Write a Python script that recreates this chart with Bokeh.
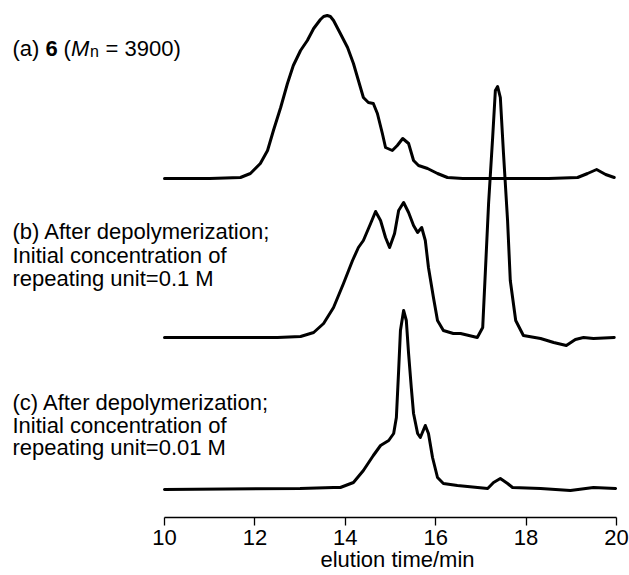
from bokeh.plotting import figure
from bokeh.models import Range1d, Label, FixedTicker
from bokeh.embed import file_html
from bokeh.resources import INLINE

# ---- data (elution time / min, detector response in arbitrary units) ----
x_ticks = [10, 12, 14, 16, 18, 20]
x_title = "elution time/min"

a_time = [10.0, 11.0, 11.68, 11.90, 12.12, 12.28, 12.41, 12.57, 12.72, 12.85, 13.01,
          13.16, 13.30, 13.45, 13.52, 13.60, 13.67, 13.74, 13.89, 14.05, 14.18, 14.29,
          14.40, 14.51, 14.62, 14.71, 14.82, 14.89, 15.04, 15.15, 15.27, 15.40, 15.51,
          15.62, 15.82, 16.04, 16.26, 16.6, 17.5, 18.5, 19.14, 19.36, 19.56, 19.76, 19.95]
a_signal = [0, 0, 1, 5, 15, 28, 48, 71, 95, 113, 128,
            138, 150, 159, 162, 163, 162, 158, 145, 131, 115, 98,
            81, 76, 75, 65, 45, 31, 28, 33, 40, 35, 18,
            13, 10, 5, 1, 0, 0, 0, 1, 5, 9, 4, 1]

b_time = [10.0, 12.5, 13.01, 13.30, 13.52, 13.74, 13.96, 14.16, 14.29, 14.40, 14.56,
          14.67, 14.78, 14.89, 14.98, 15.09, 15.18, 15.29, 15.40, 15.51, 15.60, 15.69,
          15.77, 15.84, 15.95, 16.04, 16.17, 16.39, 16.55, 16.92, 17.04, 17.10, 17.17,
          17.26, 17.32, 17.37, 17.43, 17.50, 17.59, 17.65, 17.77, 17.94, 18.32, 18.61,
          18.89, 19.09, 19.27, 19.49, 19.95]
b_signal = [0, 0, 1, 5, 14, 30, 54, 77, 90, 97, 114,
            126, 117, 100, 90, 104, 127, 135, 125, 112, 105, 110,
            97, 70, 40, 17, 7, 4, 4, 0, 10, 67, 134,
            200, 247, 251, 240, 184, 117, 57, 17, 2, -1, -5,
            -8, -2, 0, -1, 0]

c_time = [10.0, 13.0, 13.74, 13.89, 14.18, 14.40, 14.62, 14.78, 14.96, 15.07, 15.13,
          15.18, 15.22, 15.29, 15.35, 15.40, 15.46, 15.51, 15.60, 15.66, 15.77, 15.84,
          15.93, 16.04, 16.17, 16.48, 17.15, 17.28, 17.43, 17.59, 17.70, 18.32, 18.98,
          19.49, 19.98]
c_signal = [0, 1, 2, 2, 7, 19, 34, 44, 49, 56, 72,
            119, 159, 179, 169, 136, 102, 76, 56, 52, 64, 56,
            32, 12, 6, 4, 1, 7, 11, 6, 2, 1, -1,
            2, 1]

# ---- layout constants ----
PX_PER_MIN = 45.2
LEFT = 164               # canvas x of 10 min
AXIS_Y = 517             # canvas y of the time axis
W, H = 629, 575
OFF_A, OFF_B, OFF_C = 339, 180, 28   # vertical stacking of the traces (px)
FONT = "Liberation Sans"

x0 = x_ticks[0] - LEFT / PX_PER_MIN
x1 = x0 + W / PX_PER_MIN

p = figure(width=W, height=H, output_backend="svg", toolbar_location=None,
           x_range=Range1d(x0, x1), y_range=Range1d(AXIS_Y - H, AXIS_Y),
           y_axis_location=None,
           min_border_left=0, min_border_right=0,
           min_border_top=0, min_border_bottom=0)
p.grid.visible = False
p.outline_line_color = None
p.background_fill_color = "white"
p.border_fill_color = "white"

for t, s, off in ((a_time, a_signal, OFF_A), (b_time, b_signal, OFF_B), (c_time, c_signal, OFF_C)):
    p.line(t, [v + off for v in s], line_width=3, line_color="black",
           line_join="round", line_cap="round")

ax = p.xaxis[0]
ax.fixed_location = 0
ax.ticker = FixedTicker(ticks=x_ticks)
ax.bounds = (x_ticks[0], x_ticks[-1])
ax.minor_tick_line_color = None
ax.major_tick_in = 0
ax.major_tick_out = 8
ax.axis_line_width = 1.3
ax.major_tick_line_width = 1.3
ax.axis_line_color = "black"
ax.major_tick_line_color = "black"
ax.major_label_text_font = FONT
ax.major_label_text_font_size = "22px"
ax.major_label_text_color = "black"
ax.major_label_standoff = 4


def lab(text, ypix, xpix=12, size="22px", style="normal"):
    p.add_layout(Label(x=x0 + xpix / PX_PER_MIN, y=AXIS_Y - ypix,
                       text=text, text_font=FONT,
                       text_font_size=size, text_font_style=style,
                       text_color="black", text_baseline="alphabetic",
                       text_align="left"))


# (a)
lab("(a)", 48, 12)
lab("6", 48, 45, style="bold")
lab("(", 48, 63)
lab("M", 48, 70.6, style="italic")
lab("n", 51, 89.5, size="16px")
lab("= 3900)", 48, 105)

# (b)
for i, t in enumerate(["(b) After depolymerization;", "Initial concentration of",
                       "repeating unit=0.1 M"]):
    lab(t, 231 + 23.5 * i)

# (c)
for i, t in enumerate(["(c) After depolymerization;", "Initial concentration of",
                       "repeating unit=0.01 M"]):
    lab(t, 402 + 22.5 * i)

# axis title
lab(x_title, 559, 320)

open("out.html", "w").write(file_html(p, INLINE))
